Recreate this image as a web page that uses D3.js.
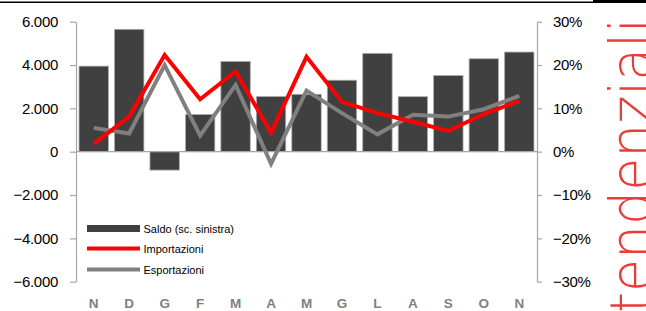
<!DOCTYPE html>
<html>
<head>
<meta charset="utf-8">
<script src="https://cdn.jsdelivr.net/npm/d3@7"></script>
<style>
  html, body { margin: 0; padding: 0; background: #fff; overflow: hidden; }
  svg { display: block; }
</style>
</head>
<body>
<svg width="646" height="311"></svg>
<script>
// months (Nov -> Nov)
const months = ["N", "D", "G", "F", "M", "A", "M", "G", "L", "A", "S", "O", "N"];
// saldo, milioni (left scale)
const saldo = [3950, 5650, -850, 1720, 4170, 2550, 2650, 3300, 4540, 2540, 3520, 4290, 4600];
// yoy changes (right scale)
const importazioni = [0.018, 0.081, 0.223, 0.121, 0.185, 0.044, 0.219, 0.115, 0.089, 0.069, 0.048, 0.087, 0.117];
const esportazioni = [0.055, 0.042, 0.200, 0.037, 0.154, -0.028, 0.141, 0.089, 0.040, 0.085, 0.081, 0.098, 0.129];
const leftTicks = [-6000, -4000, -2000, 0, 2000, 4000, 6000];
const rightTicks = [-0.3, -0.2, -0.1, 0, 0.1, 0.2, 0.3];
const legendItems = ["Saldo (sc. sinistra)", "Importazioni", "Esportazioni"];

const svg = d3.select("svg");
const plotLeft = 76, plotRight = 537, plotTop = 21.7, plotBottom = 281.7;

const it = d3.formatLocale({decimal: ",", thousands: ".", grouping: [3], currency: ["", ""]});

const x = d3.scaleBand()
  .domain(d3.range(months.length))
  .range([plotLeft, plotRight])
  .paddingInner(0.17)
  .paddingOuter(0.085);

const yL = d3.scaleLinear().domain([-6000, 6000]).range([plotBottom, plotTop]);
const yR = d3.scaleLinear().domain([-0.3, 0.3]).range([plotBottom, plotTop]);

// top rules
svg.append("line").attr("x1", 0).attr("x2", 594).attr("y1", 2.2).attr("y2", 2.2)
  .attr("stroke", "#000").attr("stroke-width", 1.4);
svg.append("line").attr("x1", 593).attr("x2", 646).attr("y1", 1.5).attr("y2", 1.5)
  .attr("stroke", "#000").attr("stroke-width", 3);

// bars
svg.append("g").selectAll("rect")
  .data(saldo)
  .join("rect")
  .attr("x", (d, i) => x(i))
  .attr("width", x.bandwidth())
  .attr("y", d => yL(Math.max(0, d)))
  .attr("height", d => Math.abs(yL(d) - yL(0)))
  .attr("fill", "#404040")
  .attr("stroke", "#b0b0b0")
  .attr("stroke-width", 0.8);

// zero line
svg.append("line")
  .attr("x1", plotLeft).attr("x2", plotRight)
  .attr("y1", yL(0)).attr("y2", yL(0))
  .attr("stroke", "#a6a6a6").attr("stroke-width", 1.2);

// lines
const cx = i => x(i) + x.bandwidth() / 2;
const line = d3.line().x((d, i) => cx(i)).y(d => yR(d));

svg.append("path").datum(esportazioni)
  .attr("fill", "none").attr("stroke", "#808080").attr("stroke-width", 4)
  .attr("stroke-linejoin", "miter").attr("d", line);
svg.append("path").datum(importazioni)
  .attr("fill", "none").attr("stroke", "#ff0000").attr("stroke-width", 4)
  .attr("stroke-linejoin", "miter").attr("d", line);

// axes
const axL = svg.append("g")
  .attr("transform", `translate(${plotLeft},0)`)
  .call(d3.axisLeft(yL).tickValues(leftTicks).tickFormat(it.format(",.0f"))
    .tickSize(6).tickSizeOuter(0).tickPadding(12));
const axR = svg.append("g")
  .attr("transform", `translate(${plotRight},0)`)
  .call(d3.axisRight(yR).tickValues(rightTicks).tickFormat(d3.format(".0%"))
    .tickSize(5).tickSizeOuter(0).tickPadding(11));

[axL, axR].forEach(ax => {
  ax.select(".domain").attr("stroke", "#a6a6a6").attr("stroke-width", 1.2);
  ax.selectAll(".tick line").attr("stroke", "#a6a6a6").attr("stroke-width", 1.2);
  ax.selectAll(".tick text")
    .attr("fill", "#000")
    .attr("font-family", "'Liberation Sans', Arial, sans-serif")
    .attr("font-size", 15)
    .attr("letter-spacing", -0.3);
});

// month labels
svg.append("g").selectAll("text")
  .data(months)
  .join("text")
  .attr("x", (d, i) => cx(i))
  .attr("y", 308)
  .attr("text-anchor", "middle")
  .attr("font-family", "'Liberation Sans', Arial, sans-serif")
  .attr("font-weight", "bold")
  .attr("font-size", 13.5)
  .attr("fill", "#808080")
  .text(d => d);

// legend
const lg = svg.append("g").attr("transform", "translate(87,0)");
const legendY = [228.5, 248.5, 269.5];
lg.append("rect").attr("x", 0).attr("y", 225).attr("width", 53).attr("height", 7)
  .attr("fill", "#404040");
lg.append("line").attr("x1", 0).attr("x2", 53).attr("y1", legendY[1]).attr("y2", legendY[1])
  .attr("stroke", "#ff0000").attr("stroke-width", 4);
lg.append("line").attr("x1", 0).attr("x2", 53).attr("y1", legendY[2]).attr("y2", legendY[2])
  .attr("stroke", "#808080").attr("stroke-width", 4);
lg.selectAll("text")
  .data(legendItems)
  .join("text")
  .attr("x", 56.5)
  .attr("y", (d, i) => legendY[i] + 4.5)
  .attr("font-family", "'Liberation Sans', Arial, sans-serif")
  .attr("font-size", 11)
  .attr("fill", "#000")
  .text(d => d);

// side banner (cut off at the right edge, as in the original page)
svg.append("text")
  .attr("transform", "translate(652,313) rotate(-90)")
  .attr("font-family", "'DejaVu Sans', sans-serif")
  .attr("font-weight", 200)
  .attr("font-size", 59)
  .attr("fill", "#ec3b3b")
  .attr("textLength", 295)
  .attr("lengthAdjust", "spacingAndGlyphs")
  .text("tendenziali");
</script>
</body>
</html>
